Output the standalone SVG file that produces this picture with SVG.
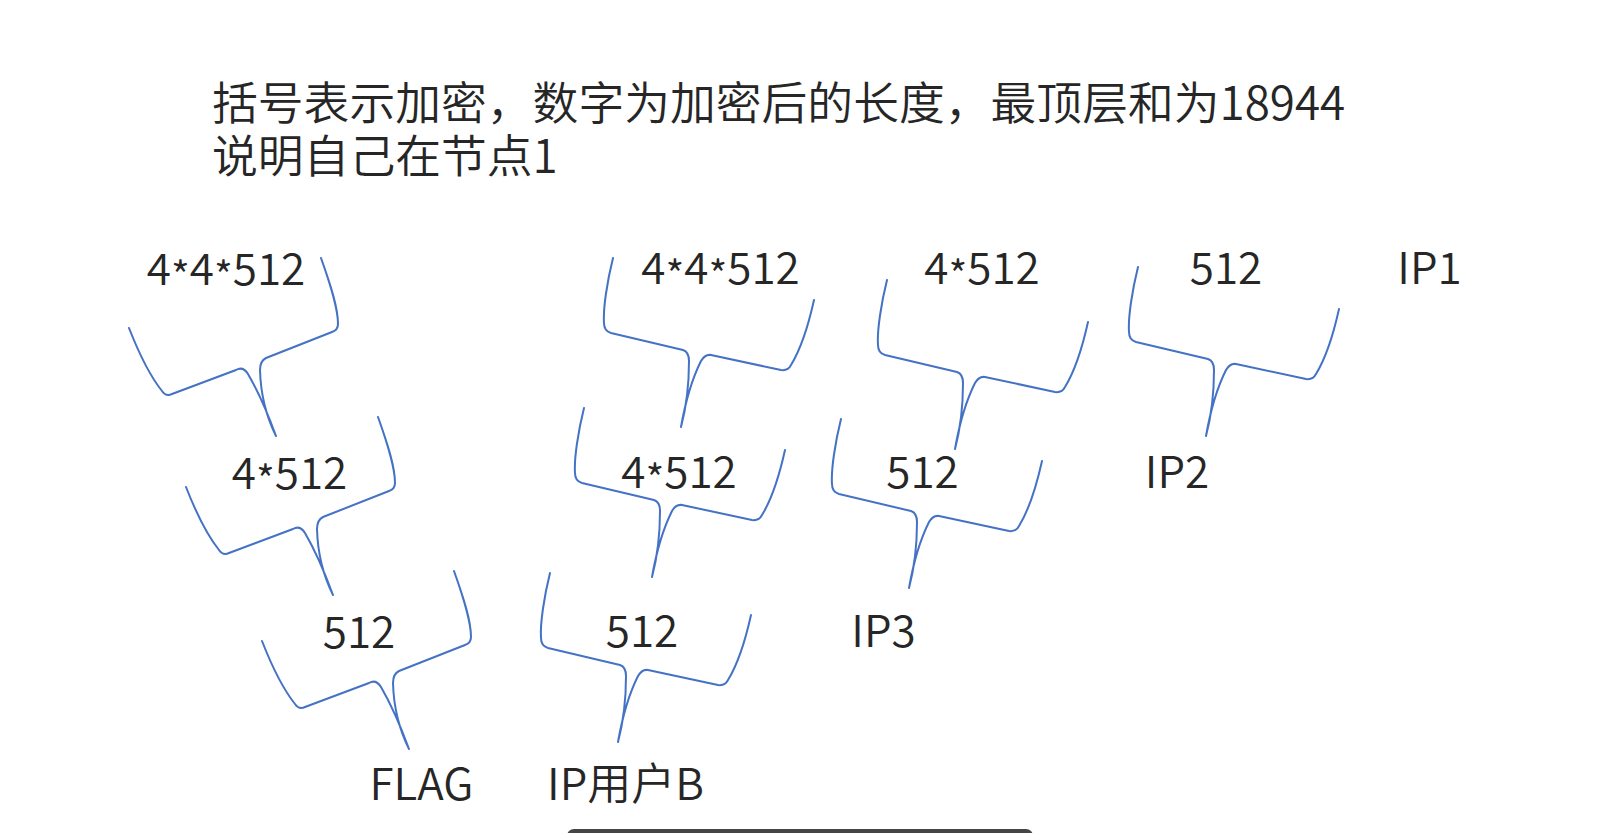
<svg xmlns="http://www.w3.org/2000/svg" xmlns:xlink="http://www.w3.org/1999/xlink" width="1598" height="833" viewBox="0 0 1598 833">
<style>
.t{font-family:"Noto Sans CJK SC","Noto Sans",sans-serif;fill:#262626;font-size:44px;font-weight:350;text-anchor:middle}
.h{font-family:"Noto Sans CJK SC","Noto Sans",sans-serif;fill:#262626;font-size:45.8px;font-weight:350}
.s{font-size:41px}
.b{fill:none;stroke:#4472C4;stroke-width:2;stroke-linecap:round;stroke-linejoin:round}
</style>
<defs>
<path id="braceL" class="b" d="M-147,-108 C-138,-85 -126,-60 -114,-45 Q-110,-39 -104,-42 L-40,-66 Q-33,-70 -28,-62 Q-14,-38 0,0 M45,-178 C55,-150 62,-128 62,-112 Q62,-106 56,-104 L-10,-78 Q-16,-75 -16,-66 Q-15,-30 0,0"/>
<path id="braceR" class="b" d="M-68,-169 C-74,-145 -78,-118 -77,-104 Q-77,-96 -70,-94 L2,-77 Q8,-75 8,-66 Q8,-30 0,0 M133,-127 C127,-100 118,-75 110,-62 Q107,-56 100,-57 L30,-72 Q24,-73 20,-66 Q7,-40 0,0"/>
</defs>
<rect width="1598" height="833" fill="#ffffff"/>
<g id="header">
<text class="h" x="212" y="120">括号表示加密，数字为加密后的长度，最顶层和为18944</text>
<text class="h" x="212" y="173">说明自己在节点1</text>
</g>
<g id="connectors">
<use xlink:href="#braceL" href="#braceL" transform="translate(276,436)"/>
<use xlink:href="#braceL" href="#braceL" transform="translate(333,595)"/>
<use xlink:href="#braceL" href="#braceL" transform="translate(409,749)"/>
<use xlink:href="#braceR" href="#braceR" transform="translate(681,427)"/>
<use xlink:href="#braceR" href="#braceR" transform="translate(652,577)"/>
<use xlink:href="#braceR" href="#braceR" transform="translate(618,742)"/>
<use xlink:href="#braceR" href="#braceR" transform="translate(955,449)"/>
<use xlink:href="#braceR" href="#braceR" transform="translate(909,588)"/>
<use xlink:href="#braceR" href="#braceR" transform="translate(1206,436)"/>
</g>
<g id="n-a1"><text class="t" x="226" y="285">4<tspan class="s" dy="7">*</tspan><tspan dy="-7">4</tspan><tspan class="s" dy="7">*</tspan><tspan dy="-7">512</tspan></text></g>
<g id="n-a2"><text class="t" x="289.5" y="489">4<tspan class="s" dy="7">*</tspan><tspan dy="-7">512</tspan></text></g>
<g id="n-a3"><text class="t" x="359" y="648">512</text></g>
<g id="n-flag"><text class="t" x="421.5" y="800">FLAG</text></g>
<g id="n-b1"><text class="t" x="720.5" y="284">4<tspan class="s" dy="7">*</tspan><tspan dy="-7">4</tspan><tspan class="s" dy="7">*</tspan><tspan dy="-7">512</tspan></text></g>
<g id="n-b2"><text class="t" x="679" y="488">4<tspan class="s" dy="7">*</tspan><tspan dy="-7">512</tspan></text></g>
<g id="n-b3"><text class="t" x="642" y="647">512</text></g>
<g id="n-ipb"><text class="t" x="625.5" y="800">IP用户B</text></g>
<g id="n-c1"><text class="t" x="982" y="284">4<tspan class="s" dy="7">*</tspan><tspan dy="-7">512</tspan></text></g>
<g id="n-c2"><text class="t" x="922.5" y="488">512</text></g>
<g id="n-ip3"><text class="t" x="883.5" y="647">IP3</text></g>
<g id="n-d1"><text class="t" x="1226" y="284">512</text></g>
<g id="n-ip2"><text class="t" x="1177" y="488">IP2</text></g>
<g id="n-ip1"><text class="t" x="1429.5" y="284">IP1</text></g>
<rect x="567" y="829" width="466" height="14" rx="7" fill="#454545"/>
</svg>
